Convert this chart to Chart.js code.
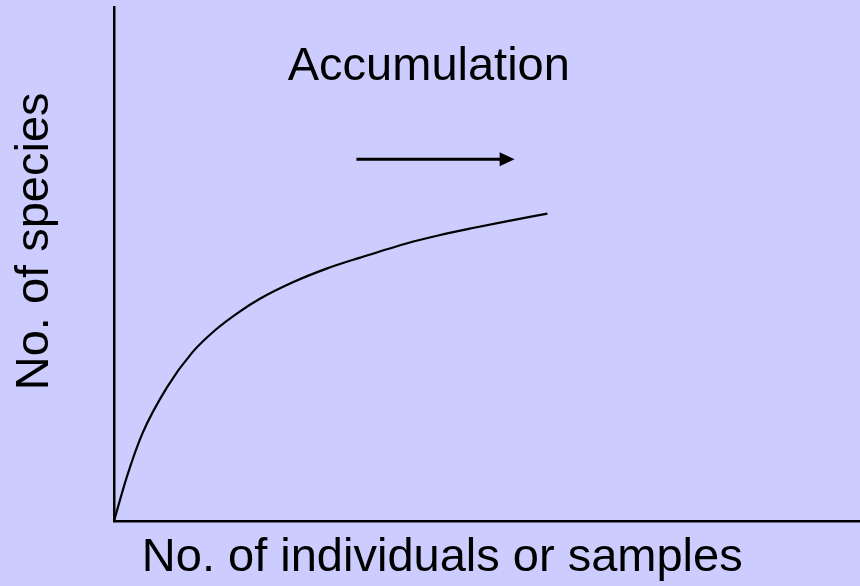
<!DOCTYPE html>
<html>
<head>
<meta charset="utf-8">
<script src="https://cdn.jsdelivr.net/npm/chart.js@4"></script>
<style>
  html, body { margin: 0; padding: 0; background: #ccccff; }
  #wrap { width: 860px; height: 586px; }
</style>
</head>
<body>
<div id="wrap"><canvas id="grafico" width="860" height="586"></canvas></div>
<script>
// dados da curva de acumulação (unidades arbitrárias 0..100)
const individuos = [0, 1.7, 3.8, 7.1, 10.5, 13.7, 16.8, 19.5, 23.9, 28.5, 32.9, 39.2, 43.6, 48.1, 52.6, 58.1];
const especies   = [0, 8.5, 17.0, 26.0, 32.8, 37.3, 40.7, 43.2, 46.4, 49.1, 51.2, 54.0, 55.6, 57.0, 58.3, 59.8];

const tituloX = 'No. of individuals or samples';
const tituloY = 'No. of species';
const textoSeta = 'Accumulation';

// posicoes das anotacoes, em unidades dos eixos
const seta = { x0: 32.5, x1: 53.7, y: 70.4 };
const posTexto = { x: 42.2, y: 85.8 };
const posTituloX = { x: 44.0 };
const posTituloY = { y: 54.4 };

const fonte = '47px "Liberation Sans", Arial, sans-serif';

const pontos = individuos.map((v, i) => ({ x: v, y: especies[i] }));

// desenha textos e seta por cima do grafico
const anotacoes = {
  id: 'anotacoes',
  afterDraw(chart) {
    const ctx = chart.ctx;
    const sx = chart.scales.x;
    const sy = chart.scales.y;
    const area = chart.chartArea;
    ctx.save();
    ctx.fillStyle = '#000';
    ctx.strokeStyle = '#000';
    ctx.font = fonte;
    ctx.textBaseline = 'alphabetic';
    ctx.textAlign = 'center';

    ctx.fillText(textoSeta, sx.getPixelForValue(posTexto.x), sy.getPixelForValue(posTexto.y));

    // titulo do eixo x
    ctx.fillText(tituloX, sx.getPixelForValue(posTituloX.x), area.bottom + 50);

    // titulo do eixo y (girado)
    ctx.save();
    ctx.translate(area.left - 66, sy.getPixelForValue(posTituloY.y));
    ctx.rotate(-Math.PI / 2);
    ctx.fillText(tituloY, 0, 0);
    ctx.restore();

    // seta
    const x0 = sx.getPixelForValue(seta.x0);
    const x1 = sx.getPixelForValue(seta.x1);
    const y = sy.getPixelForValue(seta.y);
    ctx.lineWidth = 3;
    ctx.beginPath();
    ctx.moveTo(x0, y);
    ctx.lineTo(x1 - 12, y);
    ctx.stroke();
    ctx.beginPath();
    ctx.moveTo(x1, y);
    ctx.lineTo(x1 - 15, y - 7);
    ctx.lineTo(x1 - 15, y + 7);
    ctx.closePath();
    ctx.fill();
    ctx.restore();
  }
};

const grafico = new Chart(document.getElementById('grafico'), {
  type: 'line',
  data: {
    datasets: [{
      data: pontos,
      borderColor: '#000',
      borderWidth: 2.2,
      pointRadius: 0,
      fill: false,
      cubicInterpolationMode: 'monotone'
    }]
  },
  options: {
    responsive: false,
    animation: false,
    events: [],
    layout: { padding: { left: 114, top: 7, right: 0, bottom: 65 } },
    plugins: { legend: { display: false }, tooltip: { enabled: false } },
    scales: {
      x: {
        type: 'linear', min: 0, max: 100,
        grid: { display: false, drawTicks: false },
        ticks: { display: false },
        border: { display: true, color: '#000', width: 2.5 }
      },
      y: {
        type: 'linear', min: 0, max: 100,
        grid: { display: false, drawTicks: false },
        ticks: { display: false },
        border: { display: true, color: '#000', width: 2.5 }
      }
    }
  },
  plugins: [anotacoes]
});
</script>
</body>
</html>
